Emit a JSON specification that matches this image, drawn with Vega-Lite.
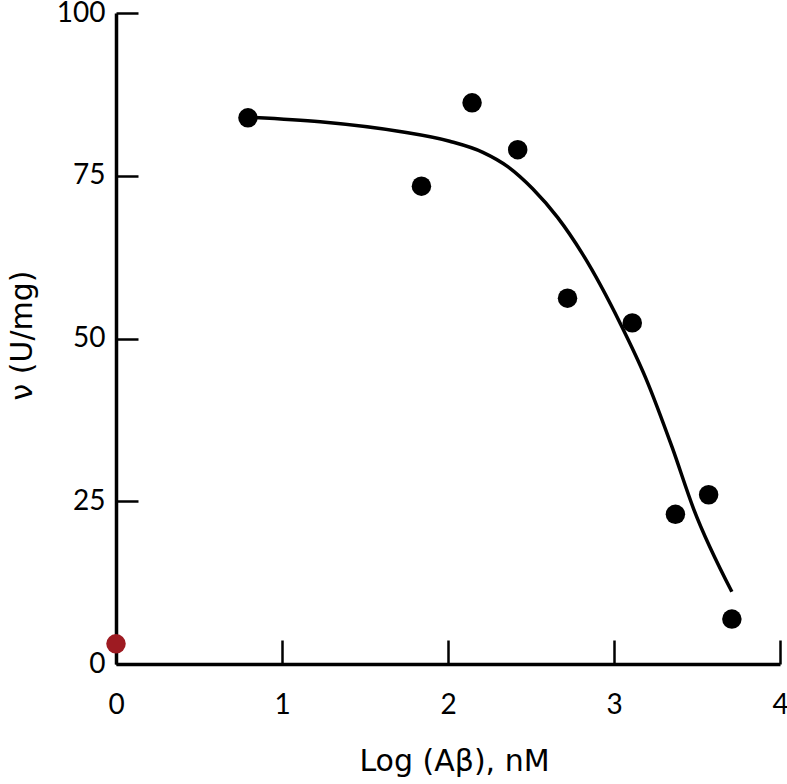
{
  "$schema": "https://vega.github.io/schema/vega-lite/v6.json",
  "width": 664,
  "height": 651,
  "autosize": {"type": "none"},
  "padding": {"left": 116, "top": 13, "right": 7, "bottom": 120},
  "background": "white",
  "config": {
    "view": {"stroke": null},
    "font": "Lato",
    "axis": {
      "grid": false,
      "domainColor": "black",
      "domainWidth": 3.5,
      "tickColor": "black",
      "tickWidth": 2.5,
      "labelColor": "black",
      "titleColor": "black",
      "labelFont": "Lato",
      "titleFont": "DejaVu Sans",
      "labelFontSize": 28,
      "titleFontSize": 30,
      "titleFontWeight": "normal",
      "labelFlush": false,
      "labelOverlap": false
    }
  },
  "datasets": {
    "fit": [
      {"logAb": 0.80, "v": 84.0},
      {"logAb": 1.23, "v": 83.3},
      {"logAb": 1.71, "v": 81.8},
      {"logAb": 2.01, "v": 80.3},
      {"logAb": 2.21, "v": 78.6},
      {"logAb": 2.36, "v": 76.4},
      {"logAb": 2.51, "v": 73.0},
      {"logAb": 2.66, "v": 68.6},
      {"logAb": 2.81, "v": 63.0},
      {"logAb": 3.04, "v": 52.2},
      {"logAb": 3.19, "v": 44.0},
      {"logAb": 3.35, "v": 33.3},
      {"logAb": 3.48, "v": 23.8},
      {"logAb": 3.71, "v": 11.1}
    ],
    "obs": [
      {"logAb": 0.0, "v": 3.1, "group": "control"},
      {"logAb": 0.795, "v": 83.9, "group": "measured"},
      {"logAb": 1.84, "v": 73.4, "group": "measured"},
      {"logAb": 2.145, "v": 86.2, "group": "measured"},
      {"logAb": 2.42, "v": 79.0, "group": "measured"},
      {"logAb": 2.72, "v": 56.2, "group": "measured"},
      {"logAb": 3.11, "v": 52.4, "group": "measured"},
      {"logAb": 3.37, "v": 23.0, "group": "measured"},
      {"logAb": 3.57, "v": 26.0, "group": "measured"},
      {"logAb": 3.71, "v": 6.9, "group": "measured"}
    ]
  },
  "layer": [
    {
      "data": {"name": "fit"},
      "mark": {"type": "line", "color": "black", "strokeWidth": 3.5, "interpolate": "monotone", "clip": false},
      "encoding": {
        "x": {
          "field": "logAb", "type": "quantitative",
          "scale": {"domain": [0, 4], "nice": false, "zero": false},
          "axis": {
            "values": [0, 1, 2, 3, 4],
            "format": "d",
            "tickSize": -24,
            "labelPadding": 51,
            "labelBaseline": "top",
            "title": "Log (Aβ), nM",
            "titleX": 338,
            "titleY": 106,
            "titleAlign": "center",
            "titleBaseline": "alphabetic",
            "titleAnchor": null
          }
        },
        "y": {
          "field": "v", "type": "quantitative",
          "scale": {"domain": [0, 100], "nice": false},
          "axis": {
            "values": [0, 25, 50, 75, 100],
            "format": "d",
            "tickSize": -22,
            "labelPadding": 33,
            "title": "ν (U/mg)",
            "titleX": -85,
            "titleY": 322,
            "titleAngle": -90,
            "titleAlign": "center",
            "titleBaseline": "alphabetic",
            "titleAnchor": null
          }
        }
      }
    },
    {
      "data": {"name": "obs"},
      "mark": {"type": "point", "filled": true, "opacity": 1, "size": 380, "shape": "circle", "clip": false},
      "encoding": {
        "x": {"field": "logAb", "type": "quantitative"},
        "y": {"field": "v", "type": "quantitative"},
        "color": {
          "field": "group", "type": "nominal",
          "scale": {"domain": ["measured", "control"], "range": ["black", "#9e1b22"]},
          "legend": null
        }
      }
    }
  ]
}
